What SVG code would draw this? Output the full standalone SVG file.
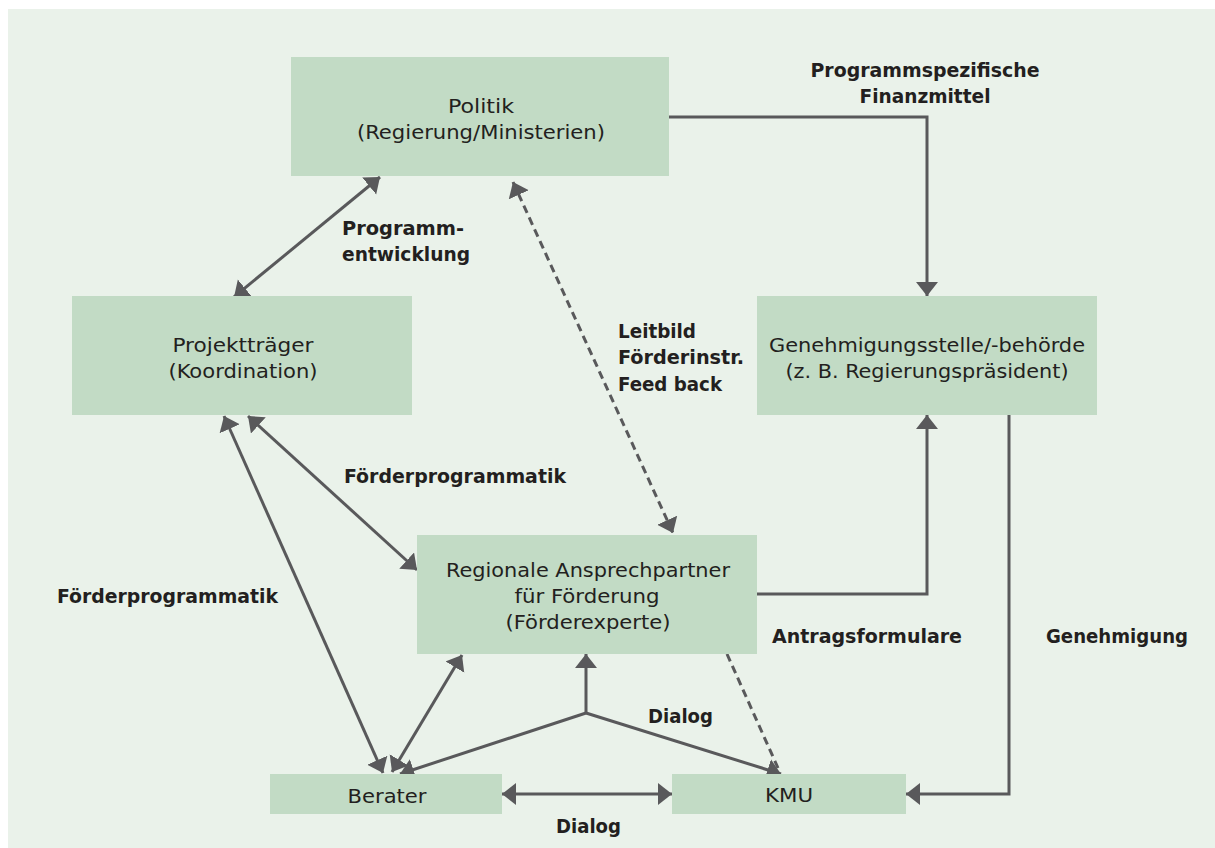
<svg xmlns="http://www.w3.org/2000/svg" width="1215" height="848" viewBox="0 0 1215 848">
<style>
.bg{fill:#ffffff}
.panel{fill:#eaf2ea}
.box{fill:#c2dbc5}
.t{font-family:"DejaVu Sans Condensed","Roboto","Liberation Sans",sans-serif;font-size:20px;fill:#231f20;text-anchor:middle}
.l{font-family:"DejaVu Sans Condensed","Roboto","Liberation Sans",sans-serif;font-size:20px;font-weight:bold;fill:#231f20}
.c{stroke:#59595b;stroke-width:3;fill:none}
.d{stroke:#59595b;stroke-width:3;fill:none;stroke-dasharray:8 5}
</style>
<defs>
<marker id="ah" markerUnits="userSpaceOnUse" markerWidth="15" markerHeight="23" refX="14" refY="11" orient="auto-start-reverse" viewBox="0 0 15 23">
<path d="M0,0 L14,11 L0,22 Z" fill="#59595b"/>
</marker>
</defs>
<rect class="bg" x="0" y="0" width="1215" height="848"/>
<rect class="panel" x="8" y="9" width="1207" height="839"/>

<g id="connectors">
<polyline class="c" points="669,117 927,117 927,296" marker-end="url(#ah)"/>
<line class="c" x1="380" y1="177" x2="234" y2="297" marker-start="url(#ah)" marker-end="url(#ah)"/>
<line class="d" x1="513" y1="182" x2="673" y2="533" marker-start="url(#ah)" marker-end="url(#ah)"/>
<line class="c" x1="248" y1="416" x2="417" y2="570" marker-start="url(#ah)" marker-end="url(#ah)"/>
<line class="c" x1="224" y1="416" x2="383" y2="773" marker-start="url(#ah)" marker-end="url(#ah)"/>
<line class="c" x1="392" y1="772" x2="462" y2="655" marker-start="url(#ah)" marker-end="url(#ah)"/>
<line class="c" x1="586" y1="713" x2="586" y2="654" marker-end="url(#ah)"/>
<line class="c" x1="586" y1="713" x2="400" y2="774" marker-end="url(#ah)"/>
<line class="c" x1="586" y1="713" x2="781" y2="774" marker-end="url(#ah)"/>
<line class="d" x1="727" y1="654" x2="778" y2="768"/>
<polyline class="c" points="757,594 927,594 927,415" marker-end="url(#ah)"/>
<polyline class="c" points="1009,415 1009,794 906,794" marker-end="url(#ah)"/>
<line class="c" x1="502" y1="794" x2="672" y2="794" marker-start="url(#ah)" marker-end="url(#ah)"/>
</g>

<g id="politik">
<rect class="box" x="291" y="57" width="378" height="119"/>
<text class="t" x="481" y="113" textLength="66" lengthAdjust="spacingAndGlyphs">Politik</text>
<text class="t" x="481" y="139" textLength="248" lengthAdjust="spacingAndGlyphs">(Regierung/Ministerien)</text>
</g>

<g id="projekttraeger">
<rect class="box" x="72" y="296" width="340" height="119"/>
<text class="t" x="243" y="352" textLength="141" lengthAdjust="spacingAndGlyphs">Projektträger</text>
<text class="t" x="243" y="378" textLength="149" lengthAdjust="spacingAndGlyphs">(Koordination)</text>
</g>

<g id="genehmigungsstelle">
<rect class="box" x="757" y="296" width="340" height="119"/>
<text class="t" x="927" y="352" textLength="316" lengthAdjust="spacingAndGlyphs">Genehmigungsstelle/-behörde</text>
<text class="t" x="927" y="378" textLength="283" lengthAdjust="spacingAndGlyphs">(z. B. Regierungspräsident)</text>
</g>

<g id="regionale">
<rect class="box" x="417" y="535" width="340" height="119"/>
<text class="t" x="588" y="577" textLength="284" lengthAdjust="spacingAndGlyphs">Regionale Ansprechpartner</text>
<text class="t" x="587" y="603" textLength="145" lengthAdjust="spacingAndGlyphs">für Förderung</text>
<text class="t" x="588" y="629" textLength="165" lengthAdjust="spacingAndGlyphs">(Förderexperte)</text>
</g>

<g id="berater">
<rect class="box" x="270" y="774" width="232" height="40"/>
<text class="t" x="387" y="803" textLength="79" lengthAdjust="spacingAndGlyphs">Berater</text>
</g>

<g id="kmu">
<rect class="box" x="672" y="774" width="234" height="40"/>
<text class="t" x="789" y="802" textLength="48" lengthAdjust="spacingAndGlyphs">KMU</text>
</g>

<g id="labels">
<text class="l" x="925" y="77" text-anchor="middle" textLength="229" lengthAdjust="spacingAndGlyphs">Programmspezifische</text>
<text class="l" x="925" y="103" text-anchor="middle" textLength="131" lengthAdjust="spacingAndGlyphs">Finanzmittel</text>
<text class="l" x="342" y="235" textLength="122" lengthAdjust="spacingAndGlyphs">Programm-</text>
<text class="l" x="342" y="261" textLength="128" lengthAdjust="spacingAndGlyphs">entwicklung</text>
<text class="l" x="618" y="338" textLength="78" lengthAdjust="spacingAndGlyphs">Leitbild</text>
<text class="l" x="618" y="364" textLength="126" lengthAdjust="spacingAndGlyphs">Förderinstr.</text>
<text class="l" x="618" y="391" textLength="104" lengthAdjust="spacingAndGlyphs">Feed back</text>
<text class="l" x="344" y="483" textLength="222" lengthAdjust="spacingAndGlyphs">Förderprogrammatik</text>
<text class="l" x="57" y="603" textLength="221" lengthAdjust="spacingAndGlyphs">Förderprogrammatik</text>
<text class="l" x="772" y="643" textLength="190" lengthAdjust="spacingAndGlyphs">Antragsformulare</text>
<text class="l" x="1046" y="643" textLength="142" lengthAdjust="spacingAndGlyphs">Genehmigung</text>
<text class="l" x="648" y="723" textLength="65" lengthAdjust="spacingAndGlyphs">Dialog</text>
<text class="l" x="556" y="833" textLength="65" lengthAdjust="spacingAndGlyphs">Dialog</text>
</g>
</svg>
